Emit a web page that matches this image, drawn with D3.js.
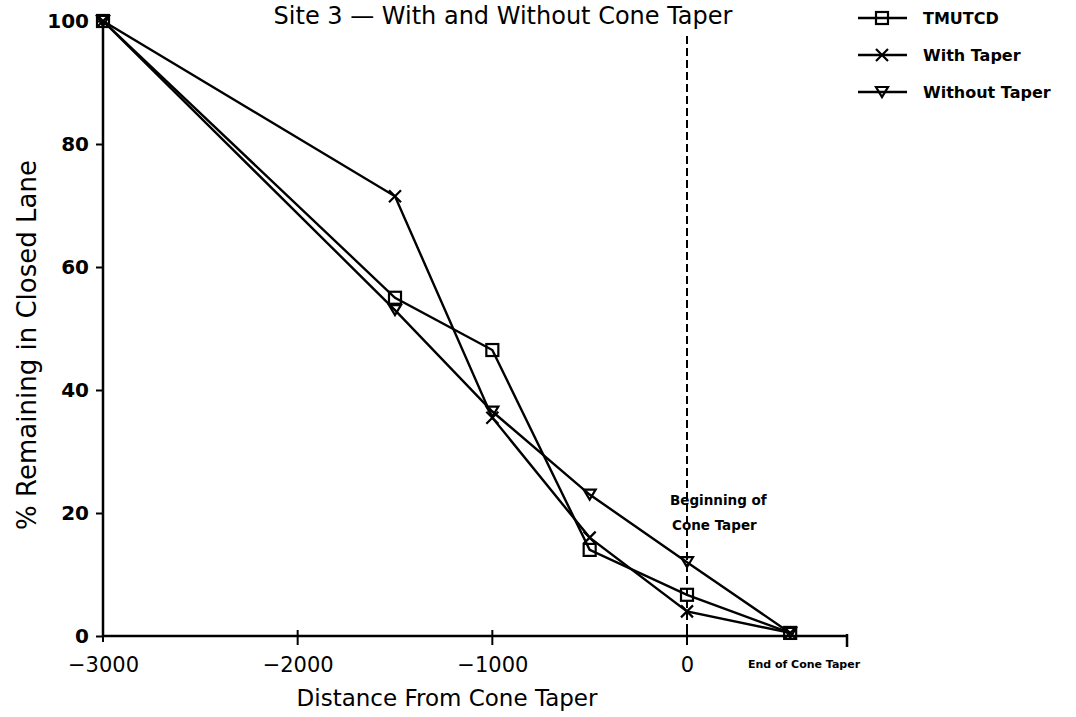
<!DOCTYPE html>
<html>
<head>
<meta charset="utf-8">
<script src="https://cdn.jsdelivr.net/npm/d3@7"></script>
<style>
  body { margin: 0; background: #fff; }
  svg { display: block; }
  text { font-family: "DejaVu Sans", "Liberation Sans", sans-serif; fill: #000; }
</style>
</head>
<body>
<div id="chart"></div>
<script>
// Distance from the start of the cone taper (ft)
const distances = [-3000, -1500, -1000, -500, 0, 530];

// % of vehicles remaining in the closed lane
const tmutcd = [100, 55, 46.5, 14, 6.7, 0.5];
const withTaper = [100, 71.5, 35.5, 16, 4, 0.5];
const withoutTaper = [100, 53, 36.5, 23, 12, 0.5];

const seriesNames = ["TMUTCD", "With Taper", "Without Taper"];
const seriesMarkers = ["square", "cross", "triangle"];
const xTicks = [-3000, -2000, -1000, 0];
const yTicks = [0, 20, 40, 60, 80, 100];

const W = 1076, H = 717;
const svg = d3.select("#chart").append("svg").attr("width", W).attr("height", H);

const x = d3.scaleLinear().domain([-3000, 0]).range([103, 687]);
const y = d3.scaleLinear().domain([0, 100]).range([636, 21]);
const xEnd = 822;

const series = [tmutcd, withTaper, withoutTaper].map((vals, i) => ({
  name: seriesNames[i],
  marker: seriesMarkers[i],
  points: vals.map((v, j) => ({ d: distances[j], v }))
}));

// Title
svg.append("text")
  .attr("x", 503).attr("y", 24)
  .attr("text-anchor", "middle")
  .style("font-size", "24px")
  .text("Site 3 \u2014 With and Without Cone Taper");

// Axes
const xAxis = d3.axisBottom(x).tickValues(xTicks).tickSize(0)
  .tickFormat(d => d3.format("d")(d).replace("-", "\u2212"));
const gx = svg.append("g").attr("transform", `translate(0,${y(0)})`).call(xAxis);
gx.select(".domain").remove();
gx.selectAll("text").attr("dy", null).attr("y", 36)
  .style("font-size", "21px").style("font-family", "DejaVu Sans, sans-serif");

// x axis line extends past 0 to the end of the taper
svg.append("line")
  .attr("x1", x(-3000)).attr("x2", x(xEnd)).attr("y1", y(0)).attr("y2", y(0))
  .attr("stroke", "#000").attr("stroke-width", 2.5);
xTicks.slice(1).forEach(t => {
  svg.append("line").attr("x1", x(t)).attr("x2", x(t)).attr("y1", y(0) - 6).attr("y2", y(0) + 9)
    .attr("stroke", "#000").attr("stroke-width", 2);
});
svg.append("line").attr("x1", x(-3000)).attr("x2", x(-3000)).attr("y1", y(0)).attr("y2", y(0) + 6)
  .attr("stroke", "#000").attr("stroke-width", 2);
svg.append("line").attr("x1", x(xEnd)).attr("x2", x(xEnd)).attr("y1", y(0) - 2).attr("y2", y(0) + 11)
  .attr("stroke", "#000").attr("stroke-width", 2.5);

const yAxis = d3.axisLeft(y).tickValues(yTicks).tickSize(7).tickPadding(7);
const gy = svg.append("g").attr("transform", `translate(${x(-3000)},0)`).call(yAxis);
gy.select(".domain").attr("stroke-width", 2.5).attr("d", `M0,${y(0)}V${y(100)}`);
gy.selectAll(".tick line").attr("stroke-width", 2);
gy.selectAll("text").style("font-size", "20px").style("font-weight", "bold")
  .style("font-family", "DejaVu Sans, sans-serif");

// Axis titles
svg.append("text")
  .attr("x", 447).attr("y", 706)
  .attr("text-anchor", "middle")
  .style("font-size", "23px")
  .text("Distance From Cone Taper");
svg.append("text")
  .attr("transform", "translate(36,345) rotate(-90)")
  .attr("text-anchor", "middle")
  .style("font-size", "26px")
  .text("% Remaining in Closed Lane");

// Beginning of cone taper marker
svg.append("line")
  .attr("x1", x(0)).attr("x2", x(0)).attr("y1", 36).attr("y2", y(0))
  .attr("stroke", "#000").attr("stroke-width", 2).attr("stroke-dasharray", "8,4");
svg.append("text").attr("x", 670).attr("y", 505)
  .style("font-size", "13.5px").style("font-weight", "bold").text("Beginning of");
svg.append("text").attr("x", 672).attr("y", 530)
  .style("font-size", "13.5px").style("font-weight", "bold").text("Cone Taper");
svg.append("text").attr("x", 804).attr("y", 668)
  .attr("text-anchor", "middle")
  .style("font-size", "11px").style("font-weight", "bold").text("End of Cone Taper");

// Marker shapes
function drawMarker(g, type, cx, cy) {
  if (type === "square") {
    g.append("rect").attr("x", cx - 6).attr("y", cy - 6).attr("width", 12).attr("height", 12)
      .attr("fill", "none").attr("stroke", "#000").attr("stroke-width", 2.2);
  } else if (type === "cross") {
    g.append("path").attr("d", `M${cx - 6},${cy - 6}L${cx + 6},${cy + 6}M${cx - 6},${cy + 6}L${cx + 6},${cy - 6}`)
      .attr("fill", "none").attr("stroke", "#000").attr("stroke-width", 2.2);
  } else {
    g.append("path").attr("d", `M${cx - 6},${cy - 5}L${cx + 6},${cy - 5}L${cx},${cy + 5}Z`)
      .attr("fill", "none").attr("stroke", "#000").attr("stroke-width", 2.2);
  }
}

const line = d3.line().x(p => x(p.d)).y(p => y(p.v));
series.forEach(s => {
  const g = svg.append("g");
  g.append("path").datum(s.points).attr("d", line)
    .attr("fill", "none").attr("stroke", "#000").attr("stroke-width", 2.4);
  s.points.forEach(p => drawMarker(g, s.marker, x(p.d), y(p.v)));
});

// Legend
series.forEach((s, i) => {
  const ly = 18 + i * 37;
  const g = svg.append("g");
  g.append("line").attr("x1", 858).attr("x2", 907).attr("y1", ly).attr("y2", ly)
    .attr("stroke", "#000").attr("stroke-width", 2.4);
  drawMarker(g, s.marker, 882, ly);
  g.append("text").attr("x", 923).attr("y", ly + 6)
    .style("font-size", "16px").style("font-weight", "bold").text(s.name);
});
</script>
</body>
</html>
